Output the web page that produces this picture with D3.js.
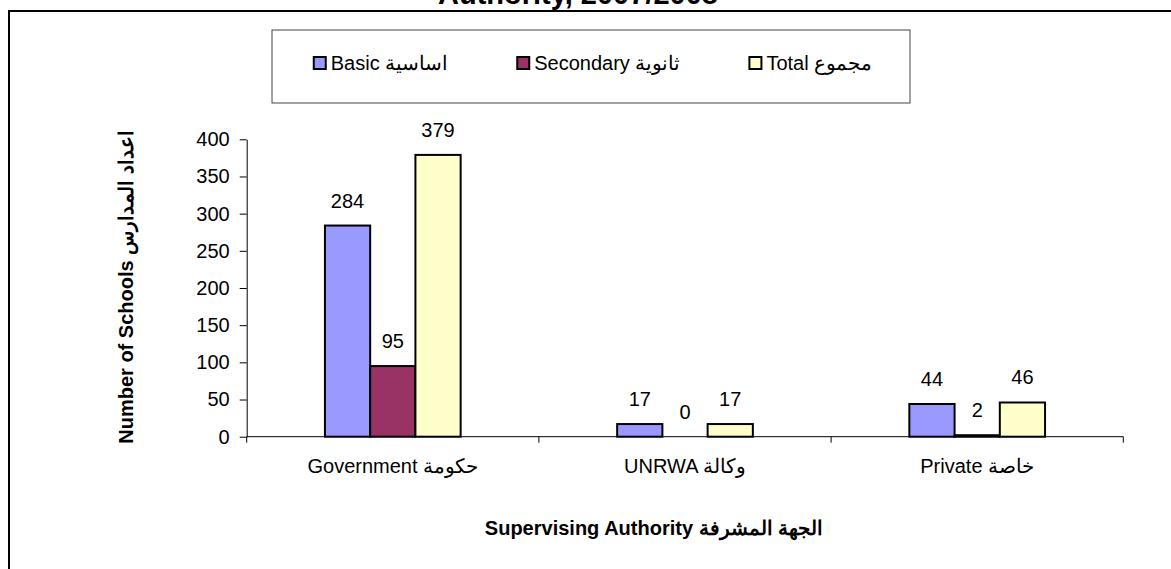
<!DOCTYPE html>
<html>
<head>
<meta charset="utf-8">
<script src="https://cdn.jsdelivr.net/npm/d3@7"></script>
<style>
  body { margin: 0; background: #fff; }
  svg { display: block; font-family: "Liberation Sans", Arial, sans-serif; }
</style>
</head>
<body>
<div id="chart"></div>
<script>
// data
const categories = ["Government حكومة", "UNRWA وكالة", "Private خاصة"];
const seriesNames = ["Basic اساسية", "Secondary ثانوية", "Total مجموع"];
const basic = [284, 17, 44];
const secondary = [95, 0, 2];
const total = [379, 17, 46];
const yTicks = [0, 50, 100, 150, 200, 250, 300, 350, 400];

const seriesValues = [basic, secondary, total];
const colors = d3.scaleOrdinal().domain(seriesNames).range(["#9999ff", "#993366", "#ffffcc"]);

const W = 1171, H = 569;
const plot = { left: 246.7, right: 1123.3, top: 139.3, bottom: 436.7 };

const svg = d3.select("#chart").append("svg")
    .attr("width", W)
    .attr("height", H);

// outer chart frame (runs past right / bottom edge)
svg.append("rect")
    .attr("x", 9).attr("y", 11)
    .attr("width", 1200).attr("height", 600)
    .attr("fill", "none")
    .attr("stroke", "#000")
    .attr("stroke-width", 2);

// title, only its bottom shows at the top edge
svg.append("text")
    .attr("x", 578)
    .attr("y", 4)
    .attr("text-anchor", "middle")
    .style("font-size", "29px")
    .style("font-weight", "bold")
    .text("Authority, 2007/2008");

const x0 = d3.scaleBand()
    .domain(categories)
    .range([plot.left, plot.right])
    .padding(0);

const x1 = d3.scaleBand()
    .domain(seriesNames)
    .range([0, x0.bandwidth()])
    .paddingInner(0)
    .paddingOuter(1.73);

const y = d3.scaleLinear()
    .domain([0, 400])
    .range([plot.bottom, plot.top]);

// y axis
const yAxis = svg.append("g")
    .attr("transform", `translate(${plot.left},0)`)
    .call(d3.axisLeft(y).tickValues(yTicks).tickSize(7).tickPadding(10).tickSizeOuter(0));
yAxis.select(".domain").attr("stroke", "#000");
yAxis.selectAll(".tick line").attr("stroke", "#000");
yAxis.selectAll("text")
    .attr("fill", "#000")
    .style("font-size", "20px")
    .style("font-family", "'Liberation Sans', Arial, sans-serif");

// x axis line with ticks at category boundaries
svg.append("line")
    .attr("x1", plot.left).attr("x2", plot.right)
    .attr("y1", plot.bottom).attr("y2", plot.bottom)
    .attr("stroke", "#000");

const bounds = [plot.left].concat(categories.map(c => x0(c) + x0.bandwidth()));
svg.selectAll(".xtick")
    .data(bounds)
    .enter().append("line")
    .attr("class", "xtick")
    .attr("x1", d => d).attr("x2", d => d)
    .attr("y1", plot.bottom).attr("y2", plot.bottom + 6)
    .attr("stroke", "#000");

svg.selectAll(".xlabel")
    .data(categories)
    .enter().append("text")
    .attr("class", "xlabel")
    .attr("x", d => x0(d) + x0.bandwidth() / 2)
    .attr("y", 473)
    .attr("text-anchor", "middle")
    .attr("direction", "ltr")
    .style("font-size", "20px")
    .text(d => d);

// bars
const groups = svg.selectAll(".grp")
    .data(categories)
    .enter().append("g")
    .attr("class", "grp")
    .attr("transform", d => `translate(${x0(d)},0)`);

const cells = groups.selectAll(".cell")
    .data((d, i) => seriesNames.map((s, j) => ({ key: s, value: seriesValues[j][i] })))
    .enter().append("g")
    .attr("class", "cell");

cells.filter(d => d.value > 0)
    .append("rect")
    .attr("x", d => x1(d.key))
    .attr("y", d => y(d.value))
    .attr("width", x1.bandwidth())
    .attr("height", d => y(0) - y(d.value))
    .attr("fill", d => colors(d.key))
    .attr("stroke", "#000")
    .attr("stroke-width", 2);

cells.append("text")
    .attr("x", d => x1(d.key) + x1.bandwidth() / 2)
    .attr("y", d => y(d.value) - 18)
    .attr("text-anchor", "middle")
    .style("font-size", "20px")
    .text(d => d.value);

// axis titles
svg.append("text")
    .attr("transform", "translate(133,287) rotate(-90)")
    .attr("text-anchor", "middle")
    .attr("direction", "ltr")
    .style("font-size", "20px")
    .style("font-weight", "bold")
    .text("Number of Schools اعداد المدارس");

svg.append("text")
    .attr("x", 654)
    .attr("y", 535)
    .attr("text-anchor", "middle")
    .attr("direction", "ltr")
    .style("font-size", "20px")
    .style("font-weight", "bold")
    .text("Supervising Authority الجهة المشرفة");

// legend
const legendBox = { x: 272, y: 30, w: 638, h: 73 };
svg.append("rect")
    .attr("x", legendBox.x).attr("y", legendBox.y)
    .attr("width", legendBox.w).attr("height", legendBox.h)
    .attr("fill", "#fff")
    .attr("stroke", "#444")
    .attr("stroke-width", 1);

const legend = svg.append("g");
const items = legend.selectAll(".legend")
    .data(seriesNames)
    .enter().append("g")
    .attr("class", "legend");

items.append("rect")
    .attr("x", 1).attr("y", 0)
    .attr("width", 12).attr("height", 12)
    .attr("fill", colors)
    .attr("stroke", "#000")
    .attr("stroke-width", 2);

items.append("text")
    .attr("x", 18)
    .attr("y", 13)
    .attr("direction", "ltr")
    .style("font-size", "20px")
    .text(d => d);

let cursor = 0;
const gap = 69;
items.each(function () {
    const w = this.getBBox().width;
    d3.select(this).attr("transform", `translate(${cursor},57)`);
    cursor += w + gap;
});
const usedW = cursor - gap;
legend.attr("transform", `translate(${legendBox.x + (legendBox.w - usedW) / 2 + 1},0)`);
</script>
</body>
</html>
